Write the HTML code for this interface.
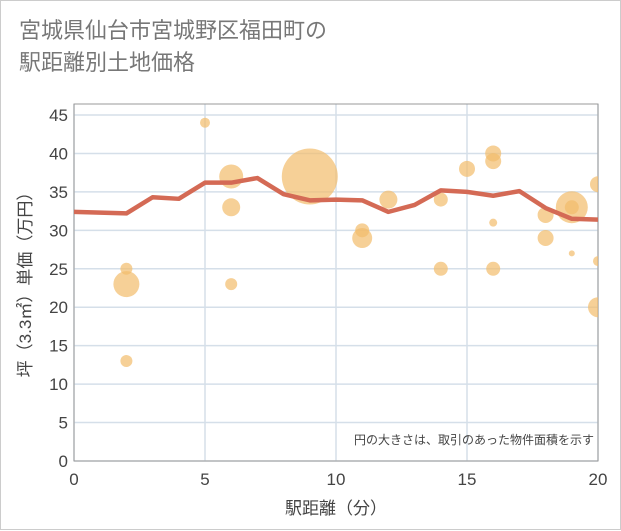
<!DOCTYPE html>
<html><head><meta charset="utf-8"><style>
body{margin:0;background:#fff;font-family:"Liberation Sans","Noto Sans CJK JP",sans-serif;}
#wrap{position:relative;width:619px;height:528px;border:1px solid #ccc;background:#fff;}
.title{position:absolute;left:18px;top:14px;font-size:22px;line-height:32px;color:#777;}
</style></head><body>
<div id="wrap">
<div class="title">宮城県仙台市宮城野区福田町の<br>駅距離別土地価格</div>
<svg id="c" width="621" height="530" style="position:absolute;left:0;top:0"></svg>
</div>
<script>
const lineX=[0,1,2,3,4,5,6,7,8,9,10,11,12,13,14,15,16,17,18,19,20];
const lineY=[32.4,32.3,32.2,34.3,34.1,36.2,36.2,36.8,34.7,33.9,34.0,33.9,32.4,33.3,35.2,35.0,34.5,35.1,32.9,31.5,31.4];
const bubX=[2,2,2,5,6,6,6,9,11,11,12,14,14,15,16,16,16,16,18,18,19,19,19,20,20,20];
const bubY=[25,23,13,44,37,33,23,37,30,29,34,34,25,38,40,39,31,25,32,29,33,33,27,36,26,20];
const bubR=[6,13,6,5,12,9,6,28,7,10,9,7,7,8,8,8,4,7,8,8,16,7,3,8,5,10];
const xTicks=[0,5,10,15,20];
const yTicks=[0,5,10,15,20,25,30,35,40,45];
const L=73,R=597,T=103,B=460;
const sx=v=>L+(R-L)*v/20;
const sy=v=>B-(B-114)*v/45;
const svg=document.getElementById('c');
const NS='http://www.w3.org/2000/svg';
function mk(t,a,p){const e=document.createElementNS(NS,t);for(const k in a)e.setAttribute(k,a[k]);(p||svg).appendChild(e);return e;}
const defs=mk('defs',{});const cp=mk('clipPath',{id:'cp'},defs);mk('rect',{x:L,y:T,width:R-L,height:B-T},cp);
for(const v of yTicks){const g=mk('line',{x1:L,x2:R,y1:sy(v),y2:sy(v),stroke:'#d5dfe9','stroke-width':1.5});


const t=mk('text',{x:L-6,y:sy(v)+6,'text-anchor':'end','font-size':17,fill:'#444'});t.textContent=v;

}
for(const v of xTicks){const g=mk('line',{x1:sx(v),x2:sx(v),y1:T,y2:B,stroke:'#d5dfe9','stroke-width':1.5});


const t=mk('text',{x:sx(v),y:B+24,'text-anchor':'middle','font-size':17,fill:'#444'});t.textContent=v;

}
mk('rect',{x:L,y:T,width:R-L,height:B-T,fill:'none',stroke:'#999','stroke-width':1});
const bg=mk('g',{'clip-path':'url(#cp)'});


for(let i=0;i<bubX.length;i++){const c=mk('circle',{cx:sx(bubX[i]),cy:sy(bubY[i]),r:bubR[i],fill:'#f2bc6b','fill-opacity':0.7},bg);

}
const pl=mk('polyline',{points:lineX.map((x,i)=>sx(x)+','+sy(lineY[i])).join(' '),fill:'none',stroke:'#d46a55','stroke-width':4.5,'stroke-linejoin':'round','clip-path':'url(#cp)'});


const note=mk('text',{x:R-4,y:443,'text-anchor':'end','font-size':12,fill:'#444'});note.textContent='円の大きさは、取引のあった物件面積を示す';


const xt=mk('text',{x:sx(10),y:513,'text-anchor':'middle','font-size':17,fill:'#444'});xt.textContent='駅距離（分）';


const yt=mk('text',{x:0,y:0,'text-anchor':'middle','font-size':17,fill:'#444',transform:'translate(30,'+((T+B)/2-2)+') rotate(-90)'});yt.textContent='坪（3.3㎡）単価（万円）';


</script>
</body></html>
